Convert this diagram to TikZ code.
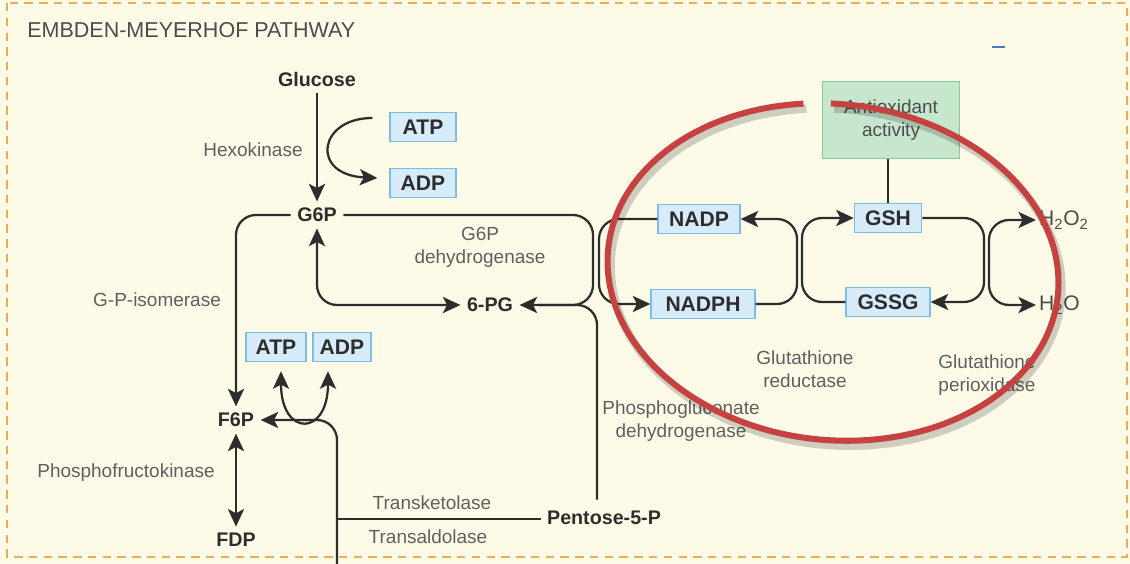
\documentclass[tikz,border=0pt]{standalone}
\usepackage{fontspec}
\setmainfont{Liberation Sans}
\usetikzlibrary{arrows.meta,calc}
\definecolor{paper}{RGB}{253,251,232}
\definecolor{framecol}{RGB}{240,172,82}
\definecolor{ink}{RGB}{45,45,45}
\definecolor{enz}{RGB}{95,95,95}
\definecolor{cofill}{RGB}{214,236,250}
\definecolor{coedge}{RGB}{125,188,228}
\definecolor{antifill}{RGB}{198,231,205}
\definecolor{antiedge}{RGB}{128,204,148}
\definecolor{ringcol}{RGB}{197,66,64}
\definecolor{dashblue}{RGB}{72,122,200}
\tikzset{
  met/.style={font=\fontsize{14}{16}\selectfont\bfseries, text=ink, inner sep=4.5pt},
  enzyme/.style={font=\fontsize{13.5}{16.5}\selectfont, text=enz, align=center, inner sep=1pt},
  cofac/.style={draw=coedge, fill=cofill, line width=0.9pt, font=\fontsize{15}{17}\selectfont\bfseries,
    text=ink, minimum height=0.73cm, inner sep=0pt},
  link/.style={draw=ink, line width=1.6pt},
  tip/.tip={Stealth[length=12.5pt,width=11.5pt,inset=3pt]},
  arr/.style={link, -tip},
  arr2/.style={link, tip-tip},
}
\begin{document}
\begin{tikzpicture}[x=0.025cm, y=-0.025cm]
    \fill[paper] (0,0) rectangle (1130,564);
    \useasboundingbox (0,0) rectangle (1130,564);
    \draw[framecol, line width=1.8pt, dash pattern=on 6pt off 4.5pt] (7,3) rectangle (1127,557);
    \node[anchor=west, font=\fontsize{15.3}{17}\selectfont, text=ink!85, inner sep=0pt] (Title) at (27,30) {EMBDEN-MEYERHOF PATHWAY};
    \draw[dashblue, line width=2pt] (992,47) -- (1005,47);

    \node[met] (Glc) at (317,79) {Glucose};
    \node[met] (G6P) at (317,215) {G6P};
    \node[met] (PG) at (490,305) {6-PG};
    \node[met] (F6P) at (236,420) {F6P};
    \node[met] (FDP) at (236,540) {FDP};
    \node[met] (P5P) at (604,518) {Pentose-5-P};

    \node[cofac, minimum width=1.65cm] (ATPa) at (423,127) {ATP};
    \node[cofac, minimum width=1.65cm] (ADPa) at (423,183) {ADP};
    \node[cofac, minimum width=1.5cm] (ATPb) at (276,347) {ATP};
    \node[cofac, minimum width=1.45cm] (ADPb) at (342,347) {ADP};
    \node[cofac, minimum width=2.05cm] (NADP) at (699,219) {NADP};
    \node[cofac, minimum width=2.6cm] (NADPH) at (703,304) {NADPH};
    \node[cofac, minimum width=1.68cm] (GSH) at (888,218) {GSH};
    \node[cofac, minimum width=2.1cm] (GSSG) at (888,302) {GSSG};
    \node[draw=antiedge, fill=antifill, line width=0.9pt, minimum width=3.42cm, minimum height=1.92cm,
      font=\fontsize{13.5}{16.5}\selectfont, text=ink!85, align=center] (Anti) at (891,120) {Antioxidant\\activity};

    \node[enzyme] (Hexo) at (253,150) {Hexokinase};
    \node[enzyme] (G6PD) at (480,247) {G6P\\dehydrogenase};
    \node[enzyme] (GPI) at (157,300) {G-P-isomerase};
    \node[enzyme] (PFK) at (126,473) {Phosphofructokinase};
    \node[enzyme] (TKT) at (432,503) {Transketolase};
    \node[enzyme] (TAL) at (428,537) {Transaldolase};
    \node[enzyme] (PGD) at (681,421) {Phosphogluconate\\dehydrogenase};
    \node[enzyme] (GR) at (805,369) {Glutathione\\reductase};
    \node[enzyme] (GPX) at (987,375) {Glutathione\\perioxidase};
    \node[anchor=west, font=\fontsize{15}{17}\selectfont, text=ink!85, inner sep=2pt] (HOO) at (1036,220) {H\textsubscript{2}O\textsubscript{2}};
    \node[anchor=west, font=\fontsize{15}{17}\selectfont, text=ink!85, inner sep=2pt] (HO) at (1036,305) {H\textsubscript{2}O};

    \path (Glc) edge[arr] (G6P);
    \draw[arr] ($(ATPa.west)+(-17,-9)$) .. controls (318,118) and (310,175) .. ($(ADPa.west)+(-12,-5)$);
    \draw[arr, rounded corners=0.5cm] (G6P.west) -| (F6P.north);
    \draw[arr2, rounded corners=0.5cm] (G6P.south) |- (PG.west);
    \draw[arr, rounded corners=0.5cm] (G6P.east) -| (593,260) |- (PG.east);
    \draw[link, rounded corners=0.5cm, shorten >=14pt] ($(P5P.north)+(-7,-5)$) |- (PG.east);
    \draw[arr, rounded corners=0.5cm] (NADP.west) -| (599,260) |- (NADPH.west);
    \draw[arr, rounded corners=0.5cm] (NADPH.east) -| (797,260) |- (NADP.east);
    \draw[arr, rounded corners=0.5cm] (GSSG.west) -| (802,260) |- (GSH.west);
    \draw[arr, rounded corners=0.5cm] (GSH.east) -| (984,260) |- (GSSG.east);
    \coordinate (Hsplit) at (989,260);
    \draw[arr, rounded corners=0.5cm] (Hsplit) |- (HOO.west);
    \draw[arr, rounded corners=0.5cm] (Hsplit) |- (HO.west);
    \path (GSH.north) edge[link] (GSH.north |- Anti.south);
    \path (F6P) edge[arr2] (FDP);
    \coordinate (TKfoot) at (337,564);
    \coordinate (TKjoin) at (337,519);
    \draw[arr, rounded corners=0.5cm] (TKfoot) |- (F6P.east);
    \path (TKjoin) edge[link] (P5P.west |- TKjoin);
    \draw[arr2] ($(ATPb.south)+(5,9)$) .. controls (281,437) and (328,437) .. ($(ADPb.south)+(-14,9)$);

    \begin{scope}[shift={(836,277)}, rotate=-6]
      \draw[black, opacity=0.18, line width=6pt] (258:226 and 168) arc[start angle=258, end angle=-95, x radius=226, y radius=168];
    \end{scope}
    \begin{scope}[shift={(833,272)}, rotate=-6]
      \draw[ringcol, line width=4.3pt] (258:226 and 168) arc[start angle=258, end angle=-95, x radius=226, y radius=168];
    \end{scope}
  \end{tikzpicture}
\end{document}
